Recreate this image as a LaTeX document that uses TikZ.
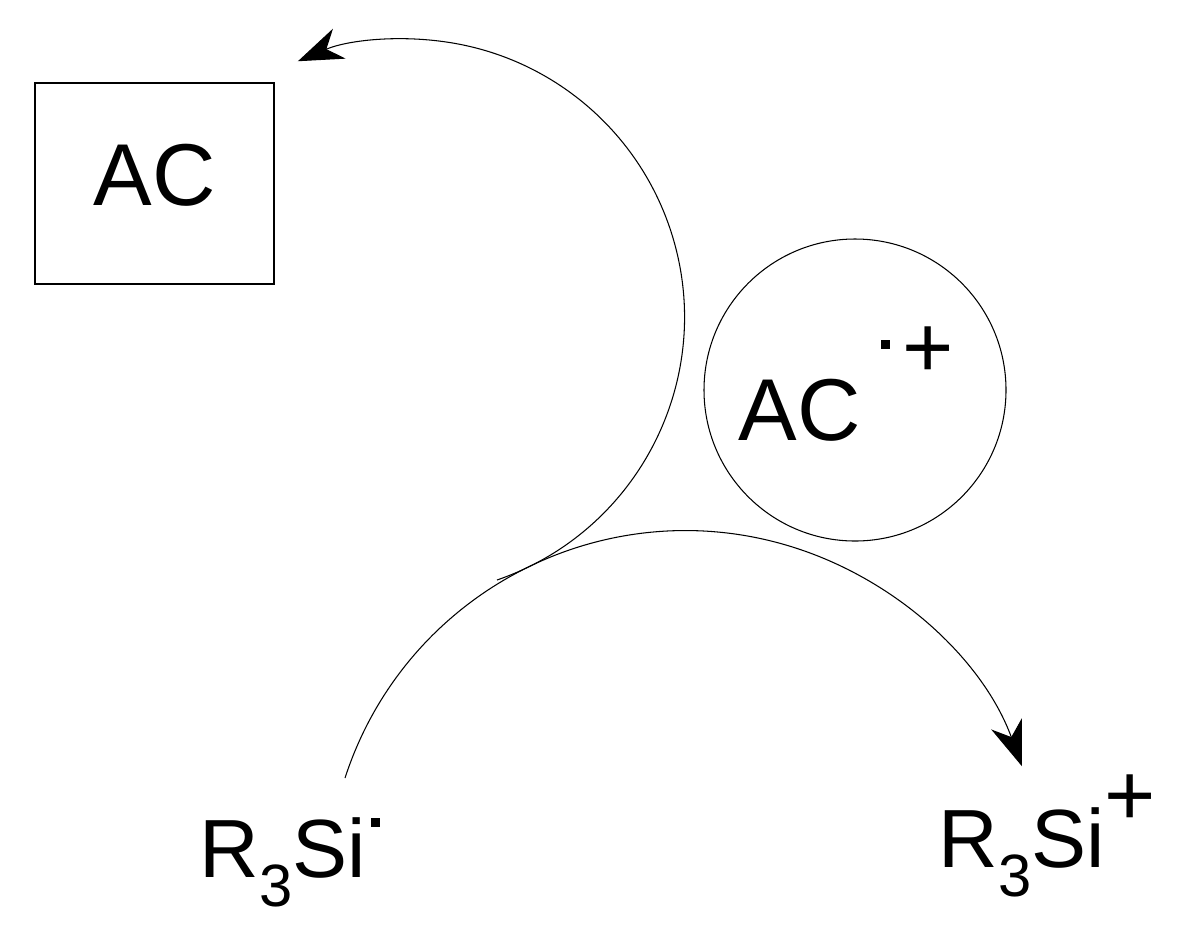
\documentclass[tikz,border=0pt]{standalone}
\usepackage{fontspec}
\setmainfont{Liberation Sans}
\usetikzlibrary{positioning}
\usetikzlibrary{arrows.meta}

\begin{document}
\begin{tikzpicture}[x=0.02cm,y=-0.02cm,
    big/.style={font=\fontsize{50}{60}\selectfont, inner sep=0pt},
    silyl/.style={font=\fontsize{47}{56}\selectfont, inner sep=0pt},
    rdot/.style={fill, rectangle, minimum size=0.18cm, inner sep=0pt},
    arc arrow/.style={line width=0.6pt, -{Stealth[length=0.9cm,width=0.65cm,inset=0.28cm]}}]

    \useasboundingbox (0,0) rectangle (1179,944);

    % boxed reactant
    \draw[line width=0.6pt] (35,83) rectangle (274,284);
    \node[big] (ac) at (155,175) {AC};

    % radical cation
    \node[draw, circle, line width=0.6pt, minimum size=302*0.02cm] (cat) at (855,390) {};
    \node[big] (acr) at (800,410) {AC};
    \node[rdot] (acrdot) at (885,344) {};
    \node[big] (acrplus) at (928,352) {+};

    % silyl species
    \node[silyl] (rsi) at (283,862) {R\raisebox{-0.35em}{\fontsize{34}{40}\selectfont 3}Si};
    \node[rdot] (rsidot) at (375,822) {};
    \node[silyl] (rsip) at (1022,852) {R\raisebox{-0.35em}{\fontsize{34}{40}\selectfont 3}Si};
    \node[big] (rsiplus) at (1130,800) {+};

    % electron transfer arcs
    \coordinate (s1) at (497,580);
    \coordinate (s2) at (345,778);
    \draw[arc arrow] (s1) arc[start angle=71, end angle=-113, radius=278];
    \draw[arc arrow] (s2) arc[start angle=-162, end angle=-20, radius=358];

\end{tikzpicture}
\end{document}
